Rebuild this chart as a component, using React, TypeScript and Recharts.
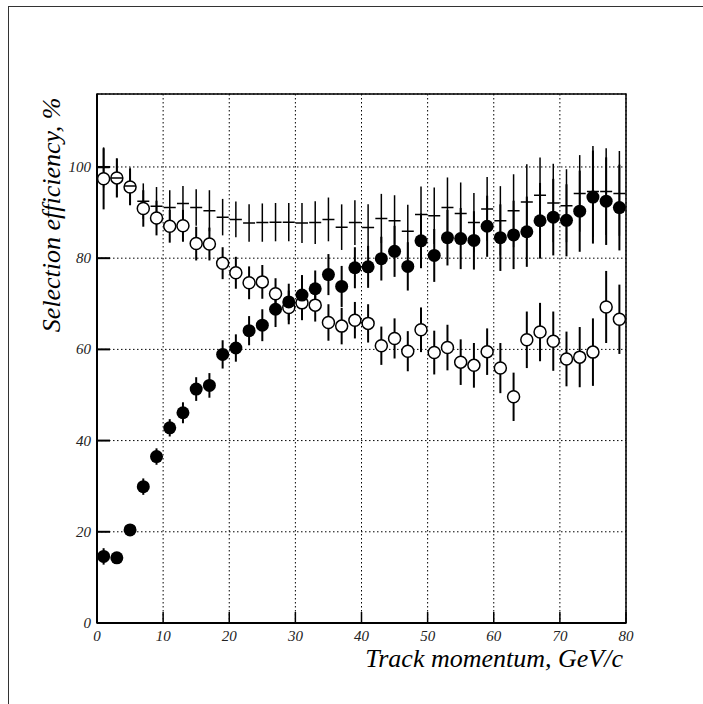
import { ScatterChart, Scatter, XAxis, YAxis, CartesianGrid, ErrorBar, ReferenceArea } from 'recharts'

// bin centres, GeV/c
const momentum = [1, 3, 5, 7, 9, 11, 13, 15, 17, 19, 21, 23, 25, 27, 29, 31, 33, 35, 37, 39,
  41, 43, 45, 47, 49, 51, 53, 55, 57, 59, 61, 63, 65, 67, 69, 71, 73, 75, 77, 79]

// filled circles
const filledEff = [14.6, 14.3, 20.4, 29.9, 36.5, 42.8, 46.1, 51.3, 52.1, 58.9, 60.3, 64.1, 65.3, 68.8, 70.4, 71.9, 73.3, 76.4, 73.8, 77.9,
  78.1, 79.9, 81.5, 78.2, 83.8, 80.6, 84.5, 84.3, 83.9, 87.0, 84.5, 85.1, 85.8, 88.2, 89.0, 88.3, 90.3, 93.4, 92.5, 91.1]
const filledErr = [1.8, 1.0, 1.1, 1.8, 1.8, 1.9, 2.3, 2.6, 2.7, 3.1, 3.0, 3.2, 3.5, 3.9, 4.0, 4.4, 4.0, 4.5, 4.5, 4.5,
  4.6, 4.8, 5.6, 5.3, 6.0, 5.8, 6.1, 6.7, 6.4, 6.7, 7.3, 7.5, 7.7, 8.3, 8.4, 7.9, 8.9, 10.2, 9.6, 9.4]

// open circles
const openEff = [97.4, 97.6, 95.6, 90.9, 88.8, 87.0, 87.1, 83.2, 83.1, 78.9, 76.8, 74.6, 74.8, 72.2, 69.2, 70.2, 69.7, 65.9, 65.1, 66.4,
  65.7, 60.8, 62.4, 59.6, 64.3, 59.3, 60.4, 57.2, 56.5, 59.5, 55.9, 49.6, 62.1, 63.8, 61.8, 57.9, 58.3, 59.4, 69.3, 66.6]
const openErr = [6.7, 4.3, 4.0, 4.0, 3.8, 3.6, 3.5, 3.7, 3.6, 3.5, 3.5, 3.6, 3.7, 3.4, 3.7, 3.8, 3.6, 4.0, 4.0, 4.0,
  4.2, 4.2, 4.4, 4.4, 4.9, 4.8, 5.0, 5.0, 4.9, 5.1, 5.5, 5.3, 6.2, 6.4, 6.5, 6.0, 6.6, 7.4, 7.9, 7.6]

// crosses (no marker)
const crossEff = [99.9, 97.6, 95.8, 92.5, 91.4, 91.1, 92.0, 91.1, 90.4, 89.0, 88.5, 87.7, 87.8, 87.9, 87.9, 87.7, 87.8, 88.5, 86.8, 87.8,
  86.7, 88.7, 88.2, 85.9, 89.6, 89.3, 91.1, 89.8, 87.8, 90.8, 88.2, 90.4, 92.3, 93.8, 92.1, 91.5, 94.2, 94.6, 94.6, 94.2]
const crossErr = [4.4, 4.2, 4.1, 3.9, 4.2, 3.8, 3.8, 4.0, 4.5, 4.0, 3.9, 4.1, 4.2, 4.2, 4.2, 4.4, 4.7, 4.8, 5.0, 4.9,
  5.1, 5.4, 5.6, 5.8, 6.1, 6.2, 6.6, 6.8, 6.5, 7.0, 7.6, 8.0, 8.3, 8.3, 8.6, 8.0, 8.4, 10.0, 9.5, 9.3]

const xTicks = [0, 10, 20, 30, 40, 50, 60, 70, 80]
const yTicks = [0, 20, 40, 60, 80, 100]

const rows = (eff: number[], err: number[]) => momentum.map((x, i) => ({ x, y: eff[i], err: err[i] }))

const FONT = '"Liberation Serif", "DejaVu Serif", serif'

const YTick = (props: any) => {
  const { x, y, payload } = props
  return (
    <g>
      <line x1={x + 6} x2={x + 19} y1={y} y2={y} stroke="#000" strokeWidth={2} />
      <text x={x} y={y} dy={5} textAnchor="end" fontFamily={FONT} fontStyle="italic" fontSize={15} fill="#222">
        {payload.value}
      </text>
    </g>
  )
}

const XTick = (props: any) => {
  const { x, y, payload } = props
  return (
    <g>
      <line x1={x} x2={x} y1={y - 8} y2={y - 19} stroke="#000" strokeWidth={1.5} />
      <text x={x} y={y} dy={10} textAnchor="middle" fontFamily={FONT} fontStyle="italic" fontSize={15} fill="#222">
        {payload.value}
      </text>
    </g>
  )
}

const OpenDot = (p: any) => <circle cx={p.cx} cy={p.cy} r={6} fill="#fff" stroke="#000" strokeWidth={1.5} />
const FilledDot = (p: any) => <circle cx={p.cx} cy={p.cy} r={6.5} fill="#000" />
const Dash = (p: any) => <line x1={p.cx - 6} x2={p.cx + 6} y1={p.cy} y2={p.cy} stroke="#000" strokeWidth={1.5} />

export default function App() {
  return (
    <div style={{ position: 'absolute', left: 0, top: 0, width: 703, height: 704, background: '#fff', overflow: 'hidden' }}>
      <div style={{ position: 'absolute', left: 8, top: 6, width: 720, height: 720, borderLeft: '1px solid #333', borderTop: '1px solid #333' }} />
      <ScatterChart width={703} height={704} margin={{ top: 94, right: 77, bottom: 51, left: 57 }}>
        <CartesianGrid stroke="#000" strokeDasharray="1.5 2.5" strokeWidth={1} />
        <XAxis type="number" dataKey="x" domain={[0, 80]} ticks={xTicks} height={30} tickSize={0} tickMargin={8}
          tick={<XTick />} axisLine={{ stroke: '#000', strokeWidth: 2 }} tickLine={false} interval={0} />
        <YAxis type="number" dataKey="y" domain={[0, 116]} ticks={yTicks} width={40} tickSize={0} tickMargin={6}
          tick={<YTick />} axisLine={{ stroke: '#000', strokeWidth: 2 }} tickLine={false} interval={0} allowDataOverflow />
        <ReferenceArea x1={0} x2={80} y1={0} y2={116} fill="none" stroke="#000" strokeWidth={1.5} ifOverflow="visible" />
        <Scatter data={rows(openEff, openErr)} shape={<OpenDot />} isAnimationActive={false}>
          <ErrorBar dataKey="err" direction="y" width={0} stroke="#000" strokeWidth={2} />
        </Scatter>
        <Scatter data={rows(crossEff, crossErr)} shape={<Dash />} isAnimationActive={false}>
          <ErrorBar dataKey="err" direction="y" width={0} stroke="#000" strokeWidth={1.5} />
        </Scatter>
        <Scatter data={rows(filledEff, filledErr)} shape={<FilledDot />} isAnimationActive={false}>
          <ErrorBar dataKey="err" direction="y" width={0} stroke="#000" strokeWidth={2} />
        </Scatter>
      </ScatterChart>
      <svg width={703} height={704} style={{ position: 'absolute', left: 0, top: 0, pointerEvents: 'none' }}>
        <text transform="translate(60,215) rotate(-90)" textAnchor="middle" fontFamily={FONT} fontStyle="italic" fontSize={26} fill="#000">
          Selection efficiency, %
        </text>
        <text x={623} y={667} textAnchor="end" fontFamily={FONT} fontStyle="italic" fontSize={26} fill="#000">
          Track momentum, GeV/c
        </text>
      </svg>
    </div>
  )
}
